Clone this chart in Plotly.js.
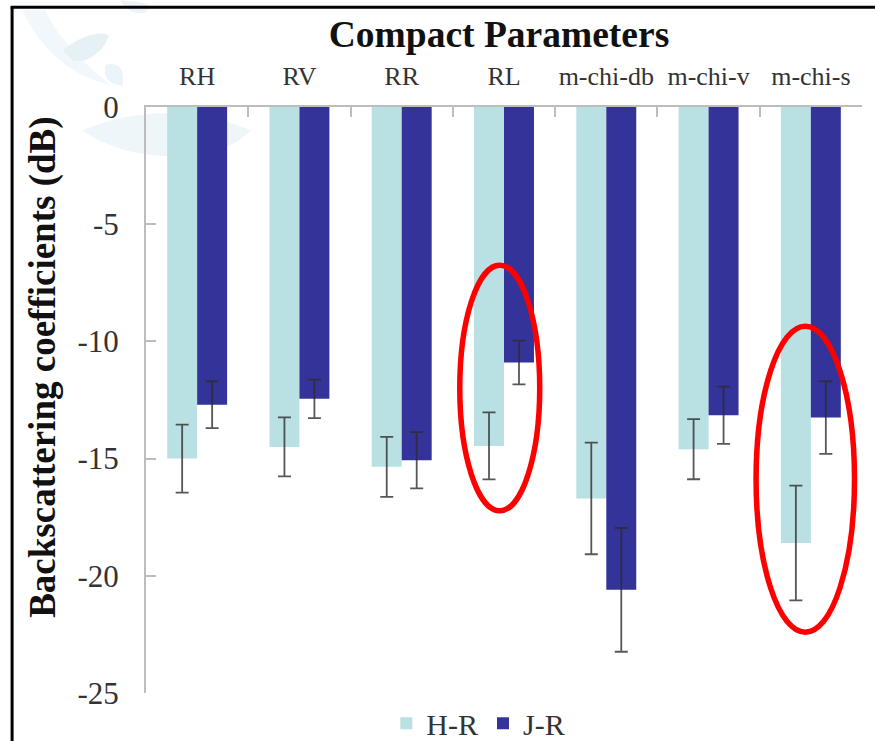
<!DOCTYPE html>
<html>
<head>
<meta charset="utf-8">
<script src="https://cdn.plot.ly/plotly-3.0.1.min.js"></script>
<style>html,body{margin:0;padding:0;background:#fff;overflow:hidden}</style>
</head>
<body>
<div id="chart" style="width:875px;height:741px"></div>
<script>
const categories = ['RH','RV','RR','RL','m-chi-db','m-chi-v','m-chi-s'];
const hrValues = [-15.0,-14.5,-15.35,-14.46,-16.7,-14.6,-18.6];
const jrValues = [-12.7,-12.45,-15.07,-10.9,-20.6,-13.15,-13.25];
const hrErrors = [1.45,1.26,1.28,1.43,2.38,1.28,2.45];
const jrErrors = [1.0,0.82,1.2,0.93,2.64,1.22,1.55];
const yTicks = [0,-5,-10,-15,-20,-25];

const L=145.5,R=862,T=106.7,B=692.7;
const px=x=>(x-L)/(R-L), py=y=>(B-y)/(B-T);
const fmt=(x,y)=>px(x).toFixed(4)+','+py(y).toFixed(4);
function blob(points,color){
  let d='M'+fmt(points[0][0],points[0][1]);
  for(let i=1;i+2<points.length;i+=3){
    d+=' C'+fmt(points[i][0],points[i][1])+' '+fmt(points[i+1][0],points[i+1][1])+' '+fmt(points[i+2][0],points[i+2][1]);
  }
  return {type:'path',xref:'paper',yref:'paper',layer:'below',path:d+' Z',fillcolor:color,line:{width:0}};
}
function ellipse(x0,x1,y0,y1){
  return {type:'circle',xref:'paper',yref:'paper',x0:px(x0),x1:px(x1),y0:py(y0),y1:py(y1),
    line:{color:'#ff0000',width:5.5},fillcolor:'rgba(0,0,0,0)',layer:'above'};
}
function rule(x0,y0,x1,y1){
  return {type:'line',xref:'paper',yref:'paper',x0:px(x0),x1:px(x1),y0:py(y0),y1:py(y1),
    line:{color:'#000',width:3},layer:'above'};
}
const shapes=[
  blob([[22,10],[40,50],[70,75],[110,85],[80,60],[55,35],[45,10]],'#f1f7fa'),
  blob([[62,50],[80,35],[100,30],[108,35],[105,50],[85,65],[72,60]],'#e6f1f6'),
  blob([[105,65],[118,60],[125,70],[122,85],[110,85],[102,78],[105,65]],'#ebf4f8'),
  blob([[82,130],[130,110],[190,105],[250,130],[220,165],[130,165],[82,130]],'#eef6f9'),
  blob([[120,0],[125,10],[135,15],[145,12],[150,6],[155,2],[120,0]],'#ebf4f8'),
  ellipse(459.5,539.5,265,510.5),
  ellipse(756,854.5,326,632),
  rule(11.5,7,11.5,741),
  rule(10,7,875,7)
];

const errStyle={type:'data',visible:true,color:'rgba(45,45,45,0.8)',thickness:1.8,width:6.5};
const traces=[
  {type:'bar',name:'H-R',x:categories,y:hrValues,marker:{color:'#b9e0e3',line:{width:0}},
   error_y:Object.assign({array:hrErrors},errStyle)},
  {type:'bar',name:'J-R',x:categories,y:jrValues,marker:{color:'#333399',line:{width:0}},
   error_y:Object.assign({array:jrErrors},errStyle)}
];
const serif='"Liberation Serif","Times New Roman",serif';
const layout={
  width:875,height:741,
  paper_bgcolor:'#fff',plot_bgcolor:'rgba(0,0,0,0)',
  margin:{l:L,r:875-R,t:T,b:741-B,pad:0,autoexpand:false},
  barmode:'group',bargap:0.414,bargroupgap:0,
  showlegend:true,
  font:{family:serif,color:'#333'},
  title:{text:'<b>Compact Parameters</b>',font:{family:serif,size:37.5,color:'#111'},
    x:(329+669)/2/875,xanchor:'center',y:1-34/741,yanchor:'middle'},
  xaxis:{type:'category',side:'top',anchor:'y',tickson:'boundaries',ticks:'inside',ticklen:10,tickwidth:2,
    tickcolor:'#bdbdbd',showline:true,linecolor:'#bdbdbd',linewidth:2,showgrid:false,zeroline:false,
    tickfont:{family:serif,size:26,color:'#333'},ticklabelstandoff:10,automargin:false,fixedrange:true,tickangle:0},
  yaxis:{range:[-25,0],tickmode:'array',tickvals:yTicks,ticktext:yTicks.map(String),ticks:'inside',ticklen:10,tickwidth:2,
    tickcolor:'#bdbdbd',showline:true,linecolor:'#bdbdbd',linewidth:2,showgrid:false,zeroline:false,
    tickfont:{family:serif,size:31,color:'#333'},ticklabelstandoff:19,automargin:false,fixedrange:true},
  annotations:[{text:'<b>Backscattering coefficients (dB)</b>',xref:'paper',yref:'paper',x:px(43),y:py(367),
    xanchor:'center',yanchor:'middle',textangle:-90,showarrow:false,font:{family:serif,size:37,color:'#111'}}],
  legend:{orientation:'h',x:px(386),xanchor:'left',y:py(723),yanchor:'middle',font:{family:serif,size:30,color:'#333'},
    bgcolor:'rgba(0,0,0,0)',traceorder:'normal',itemwidth:30,tracegroupgap:0},
  shapes:shapes
};
Plotly.newPlot('chart',traces,layout,{displayModeBar:false,staticPlot:true});
</script>
</body>
</html>
